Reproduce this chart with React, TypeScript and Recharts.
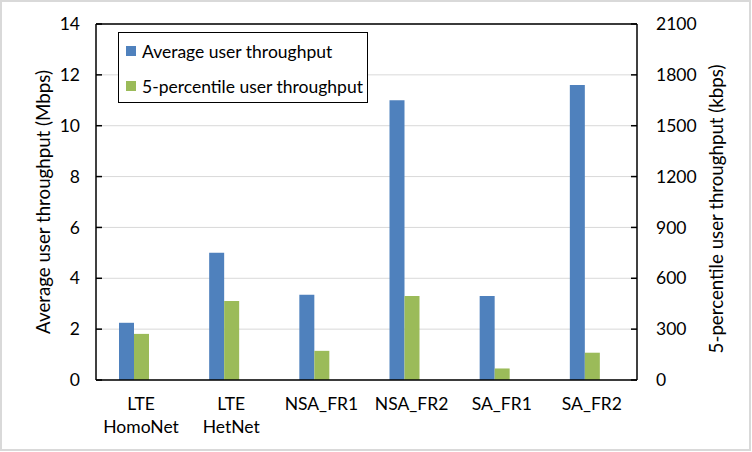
import React from "react";
import {
  BarChart,
  Bar,
  XAxis,
  YAxis,
  CartesianGrid,
  Legend,
  Label,
  ReferenceLine,
} from "recharts";

const categories = ["LTE\nHomoNet", "LTE\nHetNet", "NSA_FR1", "NSA_FR2", "SA_FR1", "SA_FR2"];
const averageMbps = [2.25, 5.0, 3.35, 11.0, 3.3, 11.6];
const fifthPercentileKbps = [272, 466, 172, 496, 68, 161];
const seriesNames = ["Average user throughput", "5-percentile user throughput"];

const leftTicks = [0, 2, 4, 6, 8, 10, 12, 14];
const rightTicks = [0, 300, 600, 900, 1200, 1500, 1800, 2100];

const FONT = "Lato, 'Open Sans', sans-serif";
const FS = 17.5;
const TITLE_FS = 18.7;
const BLUE = "#4F81BD";
const GREEN = "#9BBB59";
const seriesColors = [BLUE, GREEN];

const data = categories.map((name, i) => ({
  name,
  avg: averageMbps[i],
  p5: fifthPercentileKbps[i],
}));

function CategoryTick({ x, y, payload }: any) {
  const lines = String(payload.value).split("\n");
  return (
    <text x={x} y={y} textAnchor="middle" fontSize={FS} fill="#000" fontFamily={FONT}>
      {lines.map((line, i) => (
        <tspan key={i} x={x} dy={i === 0 ? 30 : 23}>
          {line}
        </tspan>
      ))}
    </text>
  );
}

// rotated axis title, centred on the plot height (shift moves it along the axis)
function AxisTitle({ viewBox, value, cx, shift = 0 }: any) {
  const cy = viewBox.y + viewBox.height / 2 + shift;
  return (
    <text
      transform={`translate(${cx}, ${cy}) rotate(-90)`}
      textAnchor="middle"
      dominantBaseline="central"
      fontSize={TITLE_FS}
      fill="#000"
      fontFamily={FONT}
    >
      {value}
    </text>
  );
}

function LegendBox() {
  return (
    <div
      style={{
        width: 248,
        height: 69,
        border: "1px solid #000",
        background: "#fff",
        fontFamily: FONT,
        fontSize: FS,
        color: "#000",
        position: "relative",
      }}
    >
      {seriesNames.map((name, i) => (
        <div
          key={name}
          style={{
            position: "absolute",
            left: 7,
            top: 6 + i * 35,
            height: 24,
            display: "flex",
            alignItems: "center",
            whiteSpace: "nowrap",
          }}
        >
          <span
            style={{ display: "inline-block", width: 10, height: 10, background: seriesColors[i], marginRight: 6 }}
          />
          {name}
        </div>
      ))}
    </div>
  );
}

export default function App() {
  return (
    <div
      style={{
        position: "absolute",
        left: 0,
        top: 0,
        width: 751,
        height: 451,
        boxSizing: "border-box",
        border: "2px solid #d9d9d9",
        background: "#fff",
      }}
    >
      <BarChart
        width={747}
        height={447}
        data={data}
        margin={{ top: 22, right: 0, bottom: 0, left: 0 }}
        barSize={15}
        barGap={0}
        style={{ fontFamily: FONT }}
      >
        <CartesianGrid vertical={false} stroke="#d9d9d9" yAxisId="left" />
        <XAxis
          dataKey="name"
          height={69}
          tickLine={false}
          tickSize={0}
          tickMargin={0}
          axisLine={{ stroke: "#000", strokeWidth: 1.5 }}
          tick={<CategoryTick />}
          interval={0}
        />
        <YAxis
          yAxisId="left"
          width={94}
          domain={[0, 14]}
          ticks={leftTicks}
          interval={0}
          axisLine={{ stroke: "#000", strokeWidth: 1.5 }}
          tickLine={{ stroke: "#000", strokeWidth: 1.5 }}
          tickSize={-6}
          tickMargin={22}
          tick={{ fontSize: FS, fill: "#000", fontFamily: FONT }}
        >
          <Label content={<AxisTitle cx={41} value="Average user throughput (Mbps)" />} />
        </YAxis>
        <YAxis
          yAxisId="right"
          orientation="right"
          width={112}
          domain={[0, 2100]}
          ticks={rightTicks}
          interval={0}
          axisLine={{ stroke: "#000", strokeWidth: 1.5 }}
          tickLine={{ stroke: "#000", strokeWidth: 1.5 }}
          tickSize={-6}
          tickMargin={25}
          tick={{ fontSize: FS, fill: "#000", fontFamily: FONT }}
        >
          <Label content={<AxisTitle cx={714} shift={7} value="5-percentile user throughput (kbps)" />} />
        </YAxis>
        <ReferenceLine yAxisId="left" y={14} stroke="#000" strokeWidth={1.5} />
        <Legend
          layout="vertical"
          align="center"
          verticalAlign="middle"
          wrapperStyle={{ left: 116, top: 30, width: "auto" }}
          content={<LegendBox />}
        />
        <Bar yAxisId="left" dataKey="avg" name={seriesNames[0]} fill={BLUE} isAnimationActive={false} />
        <Bar yAxisId="right" dataKey="p5" name={seriesNames[1]} fill={GREEN} isAnimationActive={false} />
        <Bar yAxisId="right" dataKey="spacer" legendType="none" fill="none" isAnimationActive={false} />
      </BarChart>
    </div>
  );
}
